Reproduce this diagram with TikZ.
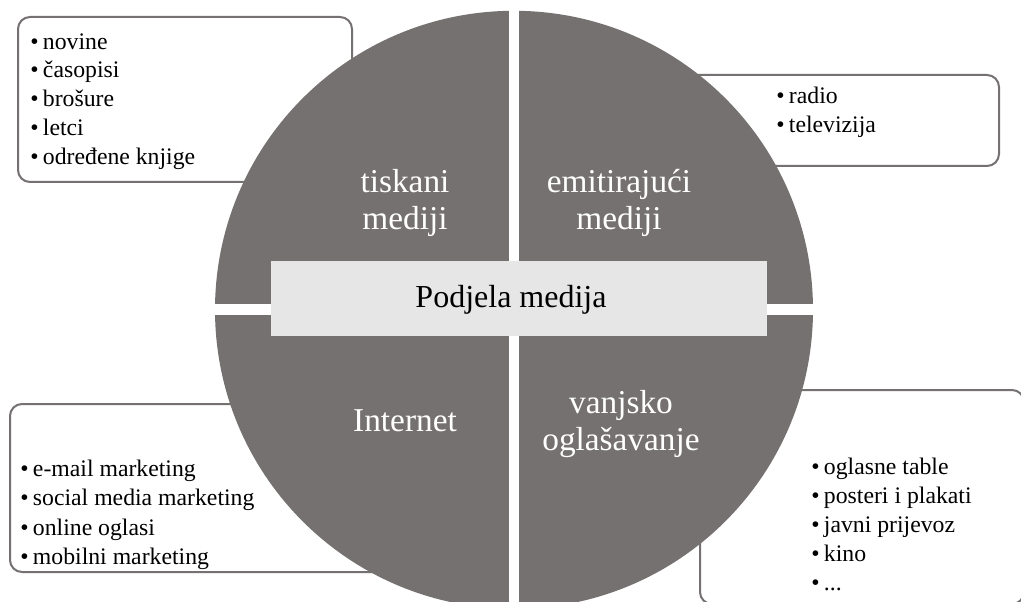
\documentclass[tikz,border=0pt]{standalone}
\usepackage{fontspec}
\setmainfont{Liberation Serif}
\definecolor{quadgray}{RGB}{118,113,113}
\definecolor{centerfill}{RGB}{231,230,230}
\definecolor{boxline}{RGB}{118,113,113}
\tikzset{
  listbox/.style={draw=boxline, fill=white, line width=1.5pt, rounded corners=9pt},
  quad/.style={fill=quadgray},
  item/.style={anchor=base west, inner sep=0pt, font=\fontsize{17.8}{21.75}\selectfont},
  qlabel/.style={anchor=base, inner sep=0pt, text=white, font=\fontsize{25}{28}\selectfont},
  centerlabel/.style={anchor=base, inner sep=0pt, font=\fontsize{24}{28}\selectfont}
}
\begin{document}
\begin{tikzpicture}[x=0.75pt,y=-0.75pt]
\useasboundingbox (0,0) rectangle (1021,602);
% list boxes (behind the circle)
\draw[listbox] (18,17) rectangle (352,182);
\draw[listbox] (680,75) rectangle (999,166);
\draw[listbox] (10,404) rectangle (400,572);
\draw[listbox] (700,390) rectangle (1024,604);
% circle split into four quadrants
\coordinate (c) at (514,309.8);
\begin{scope}
  \clip (c) circle [radius=224.25pt];
  \fill[quad] (200,0) rectangle (509,304.3);
  \fill[quad] (519,0) rectangle (830,304.3);
  \fill[quad] (200,315.3) rectangle (509,620);
  \fill[quad] (519,315.3) rectangle (830,620);
\end{scope}
% center rectangle
\node[draw=none, fill=centerfill, inner sep=0pt, minimum width=372pt, minimum height=56.25pt] (centerbox) at (519,298.5) {};
\node[centerlabel] (centertext) at (511,308) {Podjela medija};
% quadrant labels
\node[qlabel] (q1a) at (405,193) {tiskani};
\node[qlabel] (q1b) at (405,230) {mediji};
\node[qlabel] (q2a) at (619,193) {emitirajući};
\node[qlabel] (q2b) at (619,230) {mediji};
\node[qlabel] (q3a) at (405,431) {Internet};
\node[qlabel] (q4a) at (621,413) {vanjsko};
\node[qlabel] (q4b) at (621,450) {oglašavanje};
% list items
\node[item] (tl1) at (30,49.3) {•\hspace{3.3pt}novine};
\node[item] (tl2) at (30,78.0) {•\hspace{3.3pt}časopisi};
\node[item] (tl3) at (30,106.7) {•\hspace{3.3pt}brošure};
\node[item] (tl4) at (30,135.4) {•\hspace{3.3pt}letci};
\node[item] (tl5) at (30,164.1) {•\hspace{3.3pt}određene knjige};
\node[item] (tr1) at (776,103.5) {•\hspace{3.3pt}radio};
\node[item] (tr2) at (776,133.0) {•\hspace{3.3pt}televizija};
\node[item] (bl1) at (20,476.7) {•\hspace{3.3pt}e-mail marketing};
\node[item] (bl2) at (20,505.9) {•\hspace{3.3pt}social media marketing};
\node[item] (bl3) at (20,535.1) {•\hspace{3.3pt}online oglasi};
\node[item] (bl4) at (20,564.3) {•\hspace{3.3pt}mobilni marketing};
\node[item] (br1) at (811,474) {•\hspace{3.3pt}oglasne table};
\node[item] (br2) at (811,503) {•\hspace{3.3pt}posteri i plakati};
\node[item] (br3) at (811,532) {•\hspace{3.3pt}javni prijevoz};
\node[item] (br4) at (811,561) {•\hspace{3.3pt}kino};
\node[item] (br5) at (811,590) {•\hspace{3.3pt}...};
\end{tikzpicture}
\end{document}
